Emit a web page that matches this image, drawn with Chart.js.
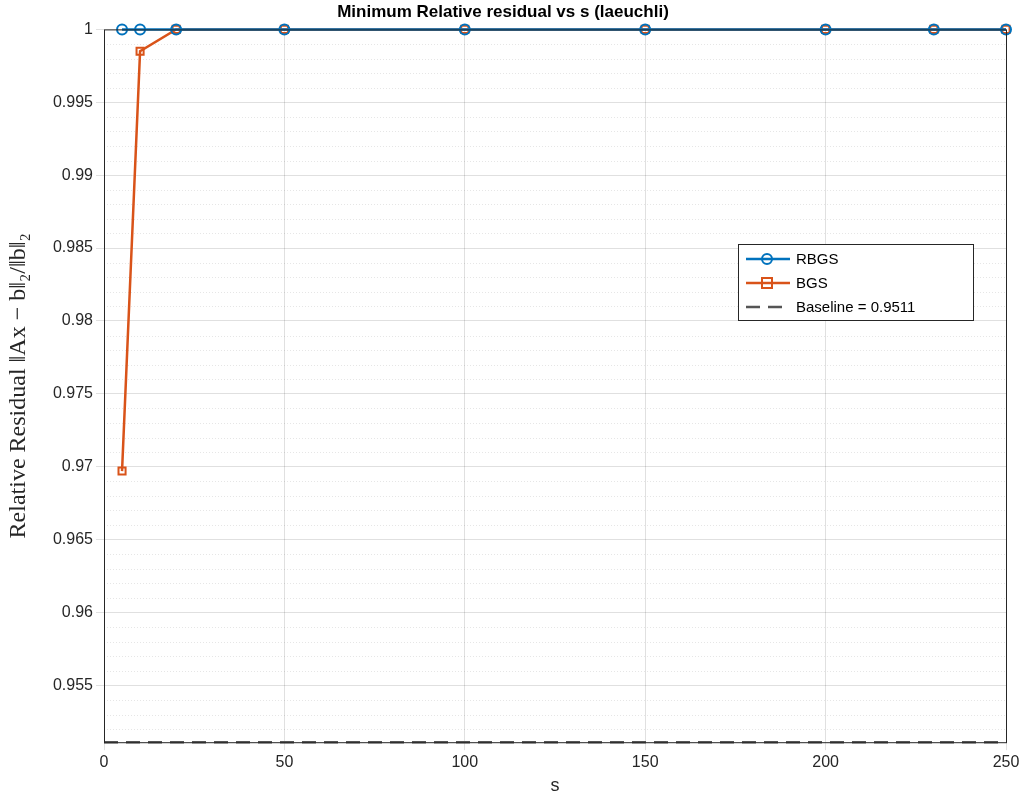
<!DOCTYPE html>
<html><head><meta charset="utf-8">
<script src="https://cdn.jsdelivr.net/npm/chart.js@4"></script>
<style>html,body{margin:0;padding:0;background:#fff}#w{width:1026px;height:801px}</style>
</head><body><div id="w"><canvas id="c"></canvas></div>
<script>
const sValues=[5,10,20,50,100,150,200,230,250];
const rbgs=[1,1,1,1,1,1,1,1,1];
const bgs=[0.9697,0.9985,1,1,1,1,1,1,1];
const baseline=0.9511;
const xTicks=[0,50,100,150,200,250];
const yMajor=[0.955,0.96,0.965,0.97,0.975,0.98,0.985,0.99,0.995,1];
const blue='#0072BD', orange='#D95319';
const F='"Liberation Sans", Arial, sans-serif';

const extras={id:'extras',
 beforeDatasetsDraw(ch){const {ctx,chartArea:a,scales:{y}}=ch;ctx.save();
  ctx.strokeStyle='rgba(0,0,0,0.14)';ctx.lineWidth=0.7;ctx.setLineDash([1,2]);
  for(let v=0.952;v<1;v+=0.001){const r=Math.round(v*1000)%5;if(r===0)continue;
   const p=Math.round(y.getPixelForValue(v))+0.5;ctx.beginPath();ctx.moveTo(a.left,p);ctx.lineTo(a.right,p);ctx.stroke();}
  ctx.restore();},
 afterDraw(ch){const {ctx,chartArea:a}=ch;ctx.save();
  ctx.strokeStyle='#262626';ctx.lineWidth=1;ctx.strokeRect(a.left+0.5,a.top+0.5,a.right-a.left,a.bottom-a.top);
  const x0=738,y0=244,w=235,h=76;ctx.fillStyle='#fff';ctx.fillRect(x0,y0,w,h);ctx.strokeStyle='#262626';ctx.strokeRect(x0+0.5,y0+0.5,w,h);
  const items=[[blue,'RBGS','c',[]],[orange,'BGS','s',[]],['#555','Baseline = 0.9511','',[14,8]]];
  items.forEach((it,i)=>{const yy=y0+15+i*24;ctx.strokeStyle=it[0];ctx.lineWidth=2.5;ctx.setLineDash(it[3]);
   ctx.beginPath();ctx.moveTo(x0+8,yy);ctx.lineTo(x0+52,yy);ctx.stroke();ctx.setLineDash([]);ctx.lineWidth=2;
   if(it[2]==='c'){ctx.beginPath();ctx.arc(x0+29,yy,5,0,7);ctx.stroke();}
   if(it[2]==='s'){ctx.strokeRect(x0+24,yy-5,10,10);}
   ctx.fillStyle='#000';ctx.font='15px '+F;ctx.textBaseline='middle';ctx.fillText(it[1],x0+58,yy+1);});
  ctx.restore();}};

new Chart(document.getElementById('c'),{type:'line',
 data:{datasets:[
  {label:'RBGS',data:sValues.map((s,i)=>({x:s,y:rbgs[i]})),borderColor:blue,borderWidth:2.5,pointStyle:'circle',pointRadius:5,pointBorderWidth:2,pointBackgroundColor:'rgba(0,0,0,0)',pointBorderColor:blue},
  {label:'BGS',data:sValues.map((s,i)=>({x:s,y:bgs[i]})),borderColor:orange,borderWidth:2.5,pointStyle:'rect',pointRadius:5,pointBorderWidth:2,pointBackgroundColor:'rgba(0,0,0,0)',pointBorderColor:orange},
  {label:'Baseline = 0.9511',data:[{x:0,y:baseline},{x:250,y:baseline}],borderColor:'#555',borderWidth:2.5,borderDash:[14,8],pointRadius:0}]},
 options:{responsive:true,maintainAspectRatio:false,animation:false,clip:false,
  layout:{padding:{top:0,right:20,left:0,bottom:0}},
  plugins:{legend:{display:false},tooltip:{enabled:false},
   title:{display:true,text:'Minimum Relative residual vs s (laeuchli)',font:{family:F,size:17,weight:'bold'},color:'#000',padding:{top:2,bottom:7}}},
  scales:{
   x:{type:'linear',min:0,max:250,afterBuildTicks:s=>{s.ticks=xTicks.map(v=>({value:v}));},
    ticks:{font:{family:F,size:16},color:'#262626'},grid:{color:'rgba(0,0,0,0.12)'},border:{display:false},
    title:{display:true,text:'s',font:{family:F,size:18},color:'#262626',padding:{top:0}}},
   y:{min:baseline,max:1,afterBuildTicks:s=>{s.ticks=yMajor.map(v=>({value:v}));},afterFit:s=>{s.width=104;},
    ticks:{font:{family:F,size:16},color:'#262626',callback:v=>String(+v.toFixed(3))},grid:{color:'rgba(0,0,0,0.12)'},border:{display:false},
    title:{display:true,text:'Relative Residual ‖Ax − b‖₂/‖b‖₂',font:{family:'"Liberation Serif", serif',size:24},color:'#262626'}}}},
 plugins:[extras]});
</script></body></html>
